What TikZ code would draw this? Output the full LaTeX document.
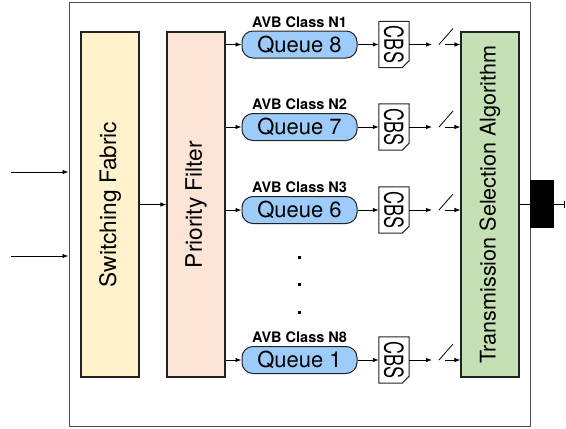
\documentclass[tikz,border=0pt]{standalone}
\usepackage{fontspec}
\setmainfont{TeX Gyre Heros}
\usetikzlibrary{arrows.meta}
\definecolor{sfc}{HTML}{FFF2CC}
\definecolor{pfc}{HTML}{FCE4D6}
\definecolor{quc}{HTML}{9DCCFA}
\definecolor{tsc}{HTML}{C5E0B4}
\definecolor{edge}{HTML}{222222}
\begin{document}
\begin{tikzpicture}[x=1pt,y=-1pt,
  bigbox/.style={draw=edge, line width=1.1pt, inner sep=0pt, minimum width=58pt, minimum height=345pt},
  bigtext/.style={font=\fontsize{22.7}{27}\selectfont},
  queue/.style={draw=edge, line width=1pt, fill=quc, rounded corners=11pt, minimum width=115pt, minimum height=27pt, inner sep=0pt, font=\fontsize{22}{26}\selectfont},
  avb/.style={inner sep=0pt, font=\fontsize{14.5}{17}\selectfont\bfseries},
  cbs/.style={inner sep=0pt, minimum width=30pt, minimum height=46pt, font=\fontsize{18}{20}\selectfont},
  cbsline/.style={draw=edge, line width=1pt, fill=white},
  arr/.style={line width=0.9pt, -{Latex[length=6pt,width=4.5pt]}},
  outerbox/.style={draw=edge!80, line width=1pt, inner sep=0pt}
]
\useasboundingbox (0,0) rectangle (566,429);
\node[outerbox, minimum width=461pt, minimum height=424pt] (outer) at (299.5,214) {};
\node[bigbox, fill=sfc, bigtext] (sf) at (110,204.5) {\rotatebox{90}{Switching Fabric}};
\node[bigbox, fill=pfc, bigtext] (pf) at (196,204.5) {\rotatebox{90}{Priority Filter}};
\node[bigbox, fill=tsc, font=\fontsize{21.6}{26}\selectfont] (tsa) at (490,204.5) {\rotatebox{90}{Transmission Selection Algorithm}};
% inputs
\coordinate (in1) at (11,172);
\coordinate (in2) at (11,256);
\draw[arr] (in1) -- (in1 -| outer.west);
\draw[arr] (in2) -- (in2 -| outer.west);
\draw[arr] (sf.east) -- (pf.west);
% rows
\foreach \n/\q/\y in {1/8/44.5, 2/7/127, 3/6/210, 8/1/360}{
  \node[avb] (l\n) at (299.5,\y-22.5) {AVB Class N\n};
  \node[queue] (q\n) at (299.5,\y) {Queue \q};
  \node[cbs] (c\n) at (394,\y) {};
  \draw[cbsline] (c\n.north west) -- (c\n.north east) -- ([yshift=7pt]c\n.south east) -- ([xshift=-7pt]c\n.south east) -- (c\n.south west) -- cycle;
  \node[cbs] at (c\n) {\rotatebox{-90}{\scalebox{1}[1.45]{CBS}}};
  \coordinate (a\n) at (432,\y);
  \coordinate (b\n) at (445,\y);
  \draw[arr] (pf.east |- q\n) -- (q\n.west);
  \draw[arr] (q\n.east) -- (c\n.west);
  \draw[arr] (c\n.east) -- (a\n);
  \draw[line width=0.8pt] (439,\y) -- (453,\y-16);
  \draw[arr] (b\n) -- (tsa.west |- b\n);
}
% dots
\foreach \d in {257,284,312}{
  \fill (297.5,\d-1.5) rectangle (300.5,\d+1.5);
}
% output port
\node[fill=black, inner sep=0pt, minimum width=24pt, minimum height=48pt] (port) at (542,203.5) {};
\draw[line width=0.9pt] (tsa.east) -- (tsa.east -| port.west);
\coordinate (out) at (565,204);
\draw[line width=0.9pt, -{Bar[width=7pt]}] (port.east |- out) -- (out);
\end{tikzpicture}
\end{document}
